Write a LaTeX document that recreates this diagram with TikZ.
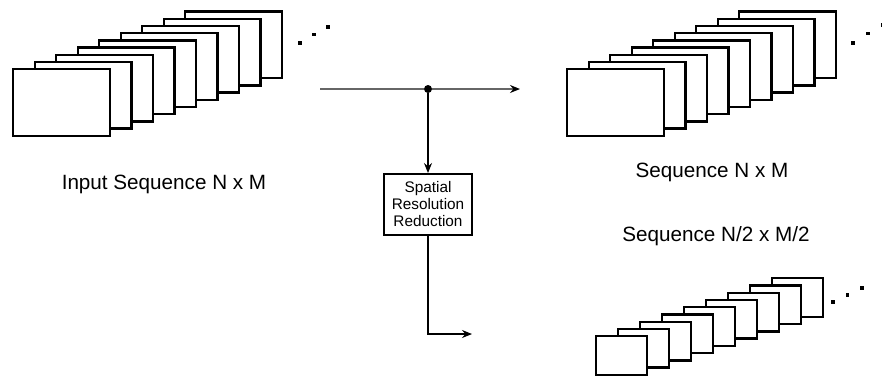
\documentclass[tikz,border=0pt]{standalone}
\usepackage{fontspec}
\setmainfont{Liberation Sans}
\usetikzlibrary{positioning,arrows.meta}

\begin{document}
\begin{tikzpicture}[
  x=0.75pt, y=-0.75pt,
  frame/.style={draw=black, fill=white, line width=1.8pt, inner sep=0pt},
  bigframe/.style={frame, minimum width=72.45pt, minimum height=49.95pt},
  smallframe/.style={frame, minimum width=37.95pt, minimum height=28.95pt},
  arr/.style={-{Stealth[length=7.5pt, width=6pt, inset=2.5pt, color=black]}, line width=0.8pt},
  lbl/.style={font=\fontsize{15.5}{18}\selectfont, anchor=base},
  reduce/.style={draw, line width=1.8pt, minimum width=65.7pt, minimum height=45.45pt,
    align=center, inner sep=0pt, font=\fontsize{11.5}{12.75}\selectfont},
]
  \useasboundingbox (0,0) rectangle (882,380);

  % frame stacks, back to front
  \foreach \i in {8,...,0} {
    \node[bigframe] (in\i) at ({61.5+21.5*\i}, {102.5-7.2*\i}) {};
    \node[bigframe] (out\i) at ({615.5+21.5*\i}, {102.5-7.2*\i}) {};
    \node[smallframe] (half\i) at ({621.5+22*\i}, {355.5-7.25*\i}) {};
  }

  % continuation dots
  \foreach \x/\y in {300/43, 314/34.5, 328/27, 853/43, 868/33.5, 882.5/25,
                     833/302, 847.5/295, 862/288}
    \fill (\x-1.75,\y-1.75) rectangle ++(3.5,3.5);

  \coordinate (src) at (320,89);
  \node[circle, fill, inner sep=0pt, minimum size=6pt] (junc) at (428,89) {};
  \coordinate (toout) at (520,89);
  \coordinate (tohalf) at (472,334);
  \node[reduce] (ssr) at (428,204.5) {Spatial\\Resolution\\Reduction};

  \draw[black!60, line width=1.1pt] (src) -- (junc);
  \draw[arr, black!60, line width=1.1pt] (junc) -- (toout);
  \draw[arr] (junc) -- (ssr.north);
  \draw[arr] (ssr.south) |- (tohalf);

  \node[lbl] (inlbl) at (164,189) {Input Sequence N x M};
  \node[lbl] (outlbl) at (712,177) {Sequence N x M};
  \node[lbl] (halflbl) at (716,241.5) {Sequence N/2 x M/2};
\end{tikzpicture}
\end{document}
